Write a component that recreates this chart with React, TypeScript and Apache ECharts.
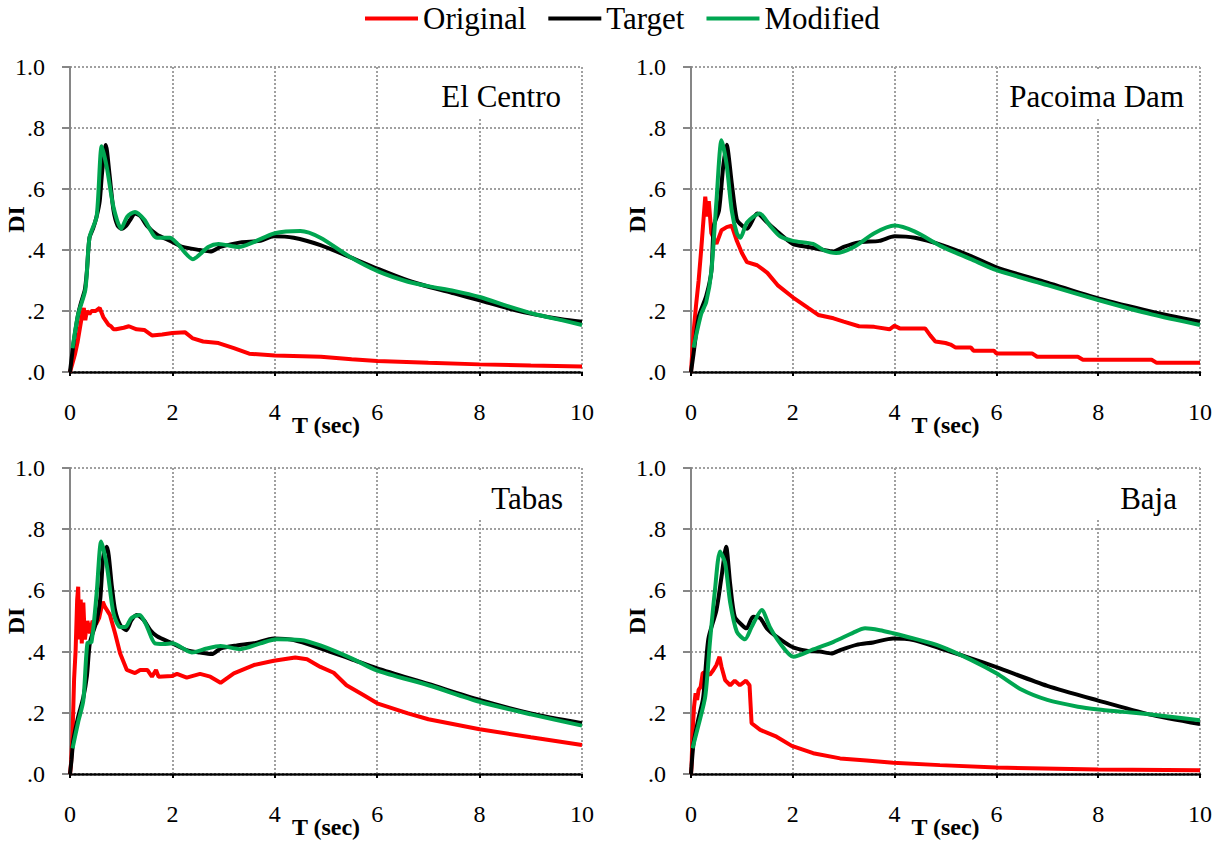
import React, { useEffect, useRef } from 'react';
import * as echarts from 'echarts';

type Pt = [number, number];

const FONT = 'Liberation Serif';

const panelNames = ['El Centro', 'Pacoima Dam', 'Tabas', 'Baja'];
const seriesNames = ['Original', 'Target', 'Modified'];
const seriesColors = ['#ff0000', '#000000', '#00a651'];
const xTickInterval = 2;
const yTickInterval = 0.2;

// ---- El Centro ----
const elCentroOriginal: Pt[] = [
  [0, 0], [0.05, 0.03], [0.1, 0.06], [0.15, 0.1], [0.2, 0.15], [0.24, 0.19], [0.27, 0.21], [0.3, 0.17],
  [0.33, 0.2], [0.38, 0.19], [0.42, 0.2], [0.5, 0.2], [0.58, 0.21], [0.65, 0.18], [0.75, 0.155], [0.8, 0.15],
  [0.85, 0.14], [0.9, 0.14], [1.05, 0.145], [1.15, 0.15], [1.3, 0.14], [1.45, 0.138], [1.6, 0.12], [1.8, 0.123],
  [2.0, 0.128], [2.25, 0.13], [2.4, 0.11], [2.6, 0.1], [2.9, 0.095], [3.2, 0.078], [3.5, 0.06], [4.0, 0.054],
  [4.9, 0.05], [5.5, 0.042], [6.0, 0.036], [7.0, 0.03], [8.0, 0.025], [9.0, 0.021], [10, 0.018],
];
const elCentroTarget: Pt[] = [
  [0, 0], [0.05, 0.07], [0.1, 0.13], [0.16, 0.19], [0.22, 0.23], [0.29, 0.27], [0.33, 0.33], [0.38, 0.44],
  [0.45, 0.47], [0.52, 0.51], [0.58, 0.56], [0.63, 0.66], [0.7, 0.744], [0.77, 0.65], [0.85, 0.53], [0.93, 0.48],
  [1.01, 0.47], [1.1, 0.48], [1.18, 0.5], [1.27, 0.52], [1.38, 0.51], [1.5, 0.48], [1.7, 0.45], [1.96, 0.43],
  [2.2, 0.41], [2.54, 0.4], [2.74, 0.395], [2.94, 0.41], [3.33, 0.425], [3.72, 0.43], [3.98, 0.445], [4.37, 0.44],
  [4.89, 0.416], [5.48, 0.376], [6.03, 0.337], [6.6, 0.3], [7.04, 0.278], [7.5, 0.258], [8.02, 0.234],
  [8.55, 0.209], [9.07, 0.189], [9.6, 0.173], [10, 0.165],
];
const elCentroModified: Pt[] = [
  [0.05, 0.078], [0.16, 0.19], [0.3, 0.27], [0.38, 0.44], [0.52, 0.51], [0.62, 0.74], [0.72, 0.67], [0.85, 0.54],
  [1.0, 0.47], [1.12, 0.51], [1.27, 0.525], [1.45, 0.5], [1.7, 0.44], [1.95, 0.44], [2.1, 0.42], [2.4, 0.37],
  [2.7, 0.41], [2.9, 0.42], [3.3, 0.41], [3.6, 0.427], [4.0, 0.455], [4.5, 0.462], [4.89, 0.44], [5.48, 0.376],
  [6.03, 0.329], [6.6, 0.296], [7.04, 0.28], [7.5, 0.266], [8.02, 0.245], [8.55, 0.216], [9.07, 0.19],
  [9.6, 0.17], [10, 0.154],
];

// ---- Pacoima Dam ----
const pacoimaOriginal: Pt[] = [
  [0, 0], [0.05, 0.13], [0.1, 0.22], [0.15, 0.3], [0.2, 0.4], [0.25, 0.51], [0.28, 0.575], [0.32, 0.51],
  [0.35, 0.56], [0.4, 0.455], [0.5, 0.42], [0.6, 0.465], [0.7, 0.475], [0.8, 0.48], [0.9, 0.43], [1.0, 0.39],
  [1.1, 0.36], [1.3, 0.35], [1.5, 0.325], [1.7, 0.285], [2.0, 0.245], [2.3, 0.21], [2.5, 0.187], [2.8, 0.176],
  [3.0, 0.165], [3.3, 0.15], [3.6, 0.148], [3.9, 0.14], [4.0, 0.152], [4.1, 0.143], [4.6, 0.143], [4.7, 0.12],
  [4.8, 0.1], [5.0, 0.095], [5.1, 0.09], [5.2, 0.08], [5.5, 0.08], [5.55, 0.07], [5.95, 0.07], [6.0, 0.061],
  [6.7, 0.061], [6.8, 0.05], [7.6, 0.05], [7.7, 0.04], [9.05, 0.04], [9.15, 0.03], [10, 0.03],
];
const pacoimaTarget: Pt[] = [
  [0, 0], [0.05, 0.06], [0.15, 0.18], [0.3, 0.25], [0.4, 0.33], [0.45, 0.48], [0.55, 0.53], [0.63, 0.67],
  [0.7, 0.745], [0.8, 0.62], [0.9, 0.5], [1.0, 0.48], [1.1, 0.47], [1.3, 0.52], [1.5, 0.49], [1.7, 0.46],
  [2.0, 0.42], [2.3, 0.41], [2.6, 0.4], [2.8, 0.395], [3.0, 0.41], [3.3, 0.425], [3.7, 0.43], [4.0, 0.445],
  [4.4, 0.44], [4.93, 0.416], [5.5, 0.38], [6.0, 0.343], [7.0, 0.293], [8.0, 0.241], [9.05, 0.198], [10, 0.165],
];
const pacoimaModified: Pt[] = [
  [0.05, 0.08], [0.2, 0.19], [0.3, 0.23], [0.4, 0.33], [0.5, 0.56], [0.6, 0.76], [0.7, 0.68], [0.8, 0.53],
  [0.9, 0.455], [0.97, 0.44], [1.1, 0.49], [1.35, 0.52], [1.55, 0.48], [1.75, 0.445], [2.0, 0.43], [2.4, 0.42],
  [2.6, 0.4], [2.85, 0.39], [3.2, 0.41], [3.6, 0.455], [4.0, 0.48], [4.4, 0.46], [4.93, 0.411], [5.5, 0.37],
  [6.0, 0.334], [7.0, 0.285], [8.0, 0.236], [9.05, 0.189], [10, 0.154],
];

// ---- Tabas ----
const tabasOriginal: Pt[] = [
  [0, 0], [0.02, 0.035], [0.05, 0.13], [0.08, 0.31], [0.11, 0.405], [0.14, 0.57], [0.16, 0.612], [0.18, 0.44],
  [0.21, 0.57], [0.23, 0.427], [0.26, 0.56], [0.29, 0.44], [0.34, 0.5], [0.39, 0.46], [0.44, 0.5], [0.51, 0.49],
  [0.57, 0.51], [0.64, 0.563], [0.68, 0.547], [0.78, 0.52], [0.88, 0.46], [0.98, 0.394], [1.11, 0.34],
  [1.27, 0.33], [1.37, 0.34], [1.51, 0.34], [1.6, 0.318], [1.68, 0.34], [1.73, 0.318], [1.99, 0.32],
  [2.09, 0.327], [2.28, 0.315], [2.54, 0.327], [2.74, 0.318], [2.94, 0.298], [3.2, 0.329], [3.59, 0.356],
  [3.98, 0.37], [4.4, 0.381], [4.63, 0.375], [4.89, 0.35], [5.15, 0.331], [5.4, 0.29], [5.73, 0.258],
  [6.0, 0.231], [6.6, 0.198], [7.0, 0.179], [8.0, 0.146], [9.0, 0.12], [10, 0.095],
];
const tabasTarget: Pt[] = [
  [0, 0], [0.03, 0.046], [0.065, 0.11], [0.16, 0.187], [0.26, 0.25], [0.33, 0.32], [0.39, 0.43], [0.52, 0.5],
  [0.59, 0.57], [0.65, 0.71], [0.72, 0.743], [0.82, 0.61], [0.88, 0.536], [0.98, 0.487], [1.1, 0.47],
  [1.2, 0.503], [1.3, 0.52], [1.44, 0.503], [1.57, 0.47], [1.7, 0.45], [2.0, 0.427], [2.28, 0.405],
  [2.54, 0.397], [2.77, 0.392], [2.94, 0.41], [3.26, 0.42], [3.59, 0.427], [3.98, 0.443], [4.37, 0.438],
  [4.89, 0.411], [5.5, 0.375], [6.0, 0.345], [7.0, 0.294], [8.0, 0.242], [9.0, 0.198], [10, 0.166],
];
const tabasModified: Pt[] = [
  [0.05, 0.084], [0.16, 0.17], [0.26, 0.24], [0.34, 0.427], [0.42, 0.432], [0.52, 0.59], [0.61, 0.76],
  [0.72, 0.68], [0.85, 0.525], [0.98, 0.48], [1.08, 0.48], [1.2, 0.51], [1.36, 0.52], [1.49, 0.487],
  [1.66, 0.427], [1.83, 0.425], [2.0, 0.427], [2.38, 0.397], [2.67, 0.41], [2.94, 0.418], [3.33, 0.408],
  [3.72, 0.427], [4.04, 0.44], [4.5, 0.438], [4.89, 0.42], [5.5, 0.378], [6.0, 0.338], [7.0, 0.29],
  [8.0, 0.236], [9.0, 0.195], [10, 0.158],
];

// ---- Baja ----
const bajaOriginal: Pt[] = [
  [0, 0], [0.01, 0.024], [0.03, 0.133], [0.06, 0.22], [0.09, 0.264], [0.12, 0.242], [0.15, 0.275],
  [0.19, 0.285], [0.23, 0.33], [0.29, 0.334], [0.37, 0.324], [0.44, 0.34], [0.5, 0.356], [0.56, 0.383],
  [0.6, 0.35], [0.67, 0.307], [0.77, 0.29], [0.86, 0.305], [0.96, 0.29], [1.08, 0.305], [1.15, 0.29],
  [1.19, 0.166], [1.36, 0.144], [1.68, 0.122], [1.98, 0.092], [2.4, 0.068], [2.93, 0.051], [3.45, 0.044],
  [3.97, 0.037], [4.89, 0.029], [6.0, 0.021], [8.0, 0.015], [10, 0.012],
];
const bajaTarget: Pt[] = [
  [0, 0], [0.01, 0.024], [0.05, 0.1], [0.14, 0.176], [0.24, 0.25], [0.34, 0.44], [0.5, 0.536], [0.6, 0.645],
  [0.69, 0.743], [0.77, 0.62], [0.86, 0.514], [1.0, 0.487], [1.09, 0.476], [1.22, 0.514], [1.36, 0.509],
  [1.49, 0.476], [1.68, 0.449], [1.98, 0.416], [2.27, 0.403], [2.53, 0.4], [2.76, 0.394], [2.93, 0.405],
  [3.25, 0.422], [3.58, 0.43], [3.97, 0.443], [4.37, 0.438], [4.89, 0.411], [5.5, 0.378], [6.0, 0.349],
  [7.0, 0.288], [8.0, 0.24], [9.0, 0.195], [10, 0.163],
];
const bajaModified: Pt[] = [
  [0.03, 0.084], [0.14, 0.155], [0.28, 0.253], [0.37, 0.427], [0.47, 0.6], [0.57, 0.727], [0.67, 0.69],
  [0.77, 0.56], [0.9, 0.465], [1.06, 0.44], [1.19, 0.48], [1.39, 0.536], [1.55, 0.48], [1.75, 0.427],
  [2.01, 0.383], [2.4, 0.407], [2.8, 0.432], [3.19, 0.462], [3.42, 0.476], [3.71, 0.47], [3.97, 0.46],
  [4.37, 0.443], [4.89, 0.418], [5.5, 0.373], [6.0, 0.329], [6.5, 0.275], [7.0, 0.242], [7.6, 0.22],
  [8.0, 0.211], [8.5, 0.203], [9.0, 0.195], [10, 0.176],
];

const panelData: Pt[][][] = [
  [elCentroOriginal, elCentroTarget, elCentroModified],
  [pacoimaOriginal, pacoimaTarget, pacoimaModified],
  [tabasOriginal, tabasTarget, tabasModified],
  [bajaOriginal, bajaTarget, bajaModified],
];

const grids = [
  { left: 70, top: 67, width: 512, height: 305 },
  { left: 691, top: 67, width: 509, height: 305 },
  { left: 70, top: 468, width: 512, height: 306 },
  { left: 691, top: 468, width: 509, height: 306 },
];

// title boxes: white background covering the gridline, text right edge & middle
const titleBoxes = [
  { x: 432, y: 70, w: 143, h: 48, tx: 561, ty: 96 },
  { x: 1000, y: 70, w: 193, h: 48, tx: 1184, ty: 96 },
  { x: 472, y: 471, w: 103, h: 49, tx: 563, ty: 498 },
  { x: 1090, y: 471, w: 103, h: 49, tx: 1177, ty: 498 },
];

const gridLineStyle = { color: '#a0a0a0', width: 2, type: [2, 2] as number[] };

const yFormatter = (v: number) => (v === 1 ? '1.0' : v.toFixed(1).replace(/^0/, ''));

export default function App() {
  const ref = useRef<HTMLDivElement>(null);

  useEffect(() => {
    if (!ref.current) return;
    const chart = echarts.init(ref.current, undefined, { renderer: 'svg' });

    const xAxis = grids.map((_, i) => ({
      type: 'value',
      gridIndex: i,
      min: 0,
      max: 10,
      interval: xTickInterval,
      name: 'T (sec)',
      nameLocation: 'middle',
      nameGap: 41,
      nameMoveOverlap: false,
      nameTextStyle: { fontFamily: FONT, fontWeight: 'bold', fontSize: 24, color: '#000' },
      axisLine: { show: true, onZero: false, lineStyle: { color: '#000', width: 2.5, type: [2, 2] } },
      axisTick: { show: true, length: 4, lineStyle: { color: '#000', width: 2 } },
      axisLabel: { fontFamily: FONT, fontSize: 24, color: '#000', margin: 28 },
      splitLine: { show: true, lineStyle: gridLineStyle },
    }));

    const yAxis = grids.map((_, i) => ({
      type: 'value',
      gridIndex: i,
      min: 0,
      max: 1,
      interval: yTickInterval,
      name: 'DI',
      nameLocation: 'middle',
      nameGap: 42,
      nameRotate: 90,
      nameMoveOverlap: false,
      nameTextStyle: { fontFamily: FONT, fontWeight: 'bold', fontSize: 24, color: '#000' },
      axisLine: { show: true, lineStyle: { color: '#868686', width: 2 } },
      axisTick: { show: true, length: 8, lineStyle: { color: '#868686', width: 2 } },
      axisLabel: { fontFamily: FONT, fontSize: 24, color: '#000', margin: 25, formatter: yFormatter },
      splitLine: { show: true, lineStyle: gridLineStyle },
    }));

    const series: any[] = [];
    panelData.forEach((panel, i) => {
      panel.forEach((data, k) => {
        series.push({
          type: 'line',
          name: seriesNames[k],
          xAxisIndex: i,
          yAxisIndex: i,
          data,
          showSymbol: false,
          symbol: 'none',
          smooth: k === 0 ? false : 0.25,
          color: seriesColors[k],
          lineStyle: { color: seriesColors[k], width: 4 },
          z: 2 + k,
        });
      });
    });

    const graphic: any[] = [];
    titleBoxes.forEach((b, i) => {
      graphic.push({
        type: 'rect',
        shape: { x: b.x, y: b.y, width: b.w, height: b.h },
        style: { fill: '#ffffff' },
        z: 10,
      });
      graphic.push({
        type: 'text',
        x: b.tx,
        y: b.ty,
        style: {
          text: panelNames[i],
          fontFamily: FONT,
          fontSize: 31,
          fill: '#000',
          align: 'right',
          verticalAlign: 'middle',
        },
        z: 11,
      });
    });

    chart.setOption({
      animation: false,
      backgroundColor: '#ffffff',
      textStyle: { fontFamily: FONT },
      grid: grids.map((g) => ({ ...g, containLabel: false, outerBoundsMode: 'none' })),
      xAxis,
      yAxis,
      legend: {
        data: seriesNames,
        left: 360,
        top: -2,
        icon: 'rect',
        itemWidth: 53,
        itemHeight: 4,
        itemGap: 22,
        textStyle: { fontFamily: FONT, fontSize: 31, color: '#000' },
      },
      series,
      graphic,
    });

    return () => chart.dispose();
  }, []);

  return (
    <div
      ref={ref}
      style={{ position: 'fixed', left: 0, top: 0, width: 1225, height: 846, background: '#fff' }}
    />
  );
}
